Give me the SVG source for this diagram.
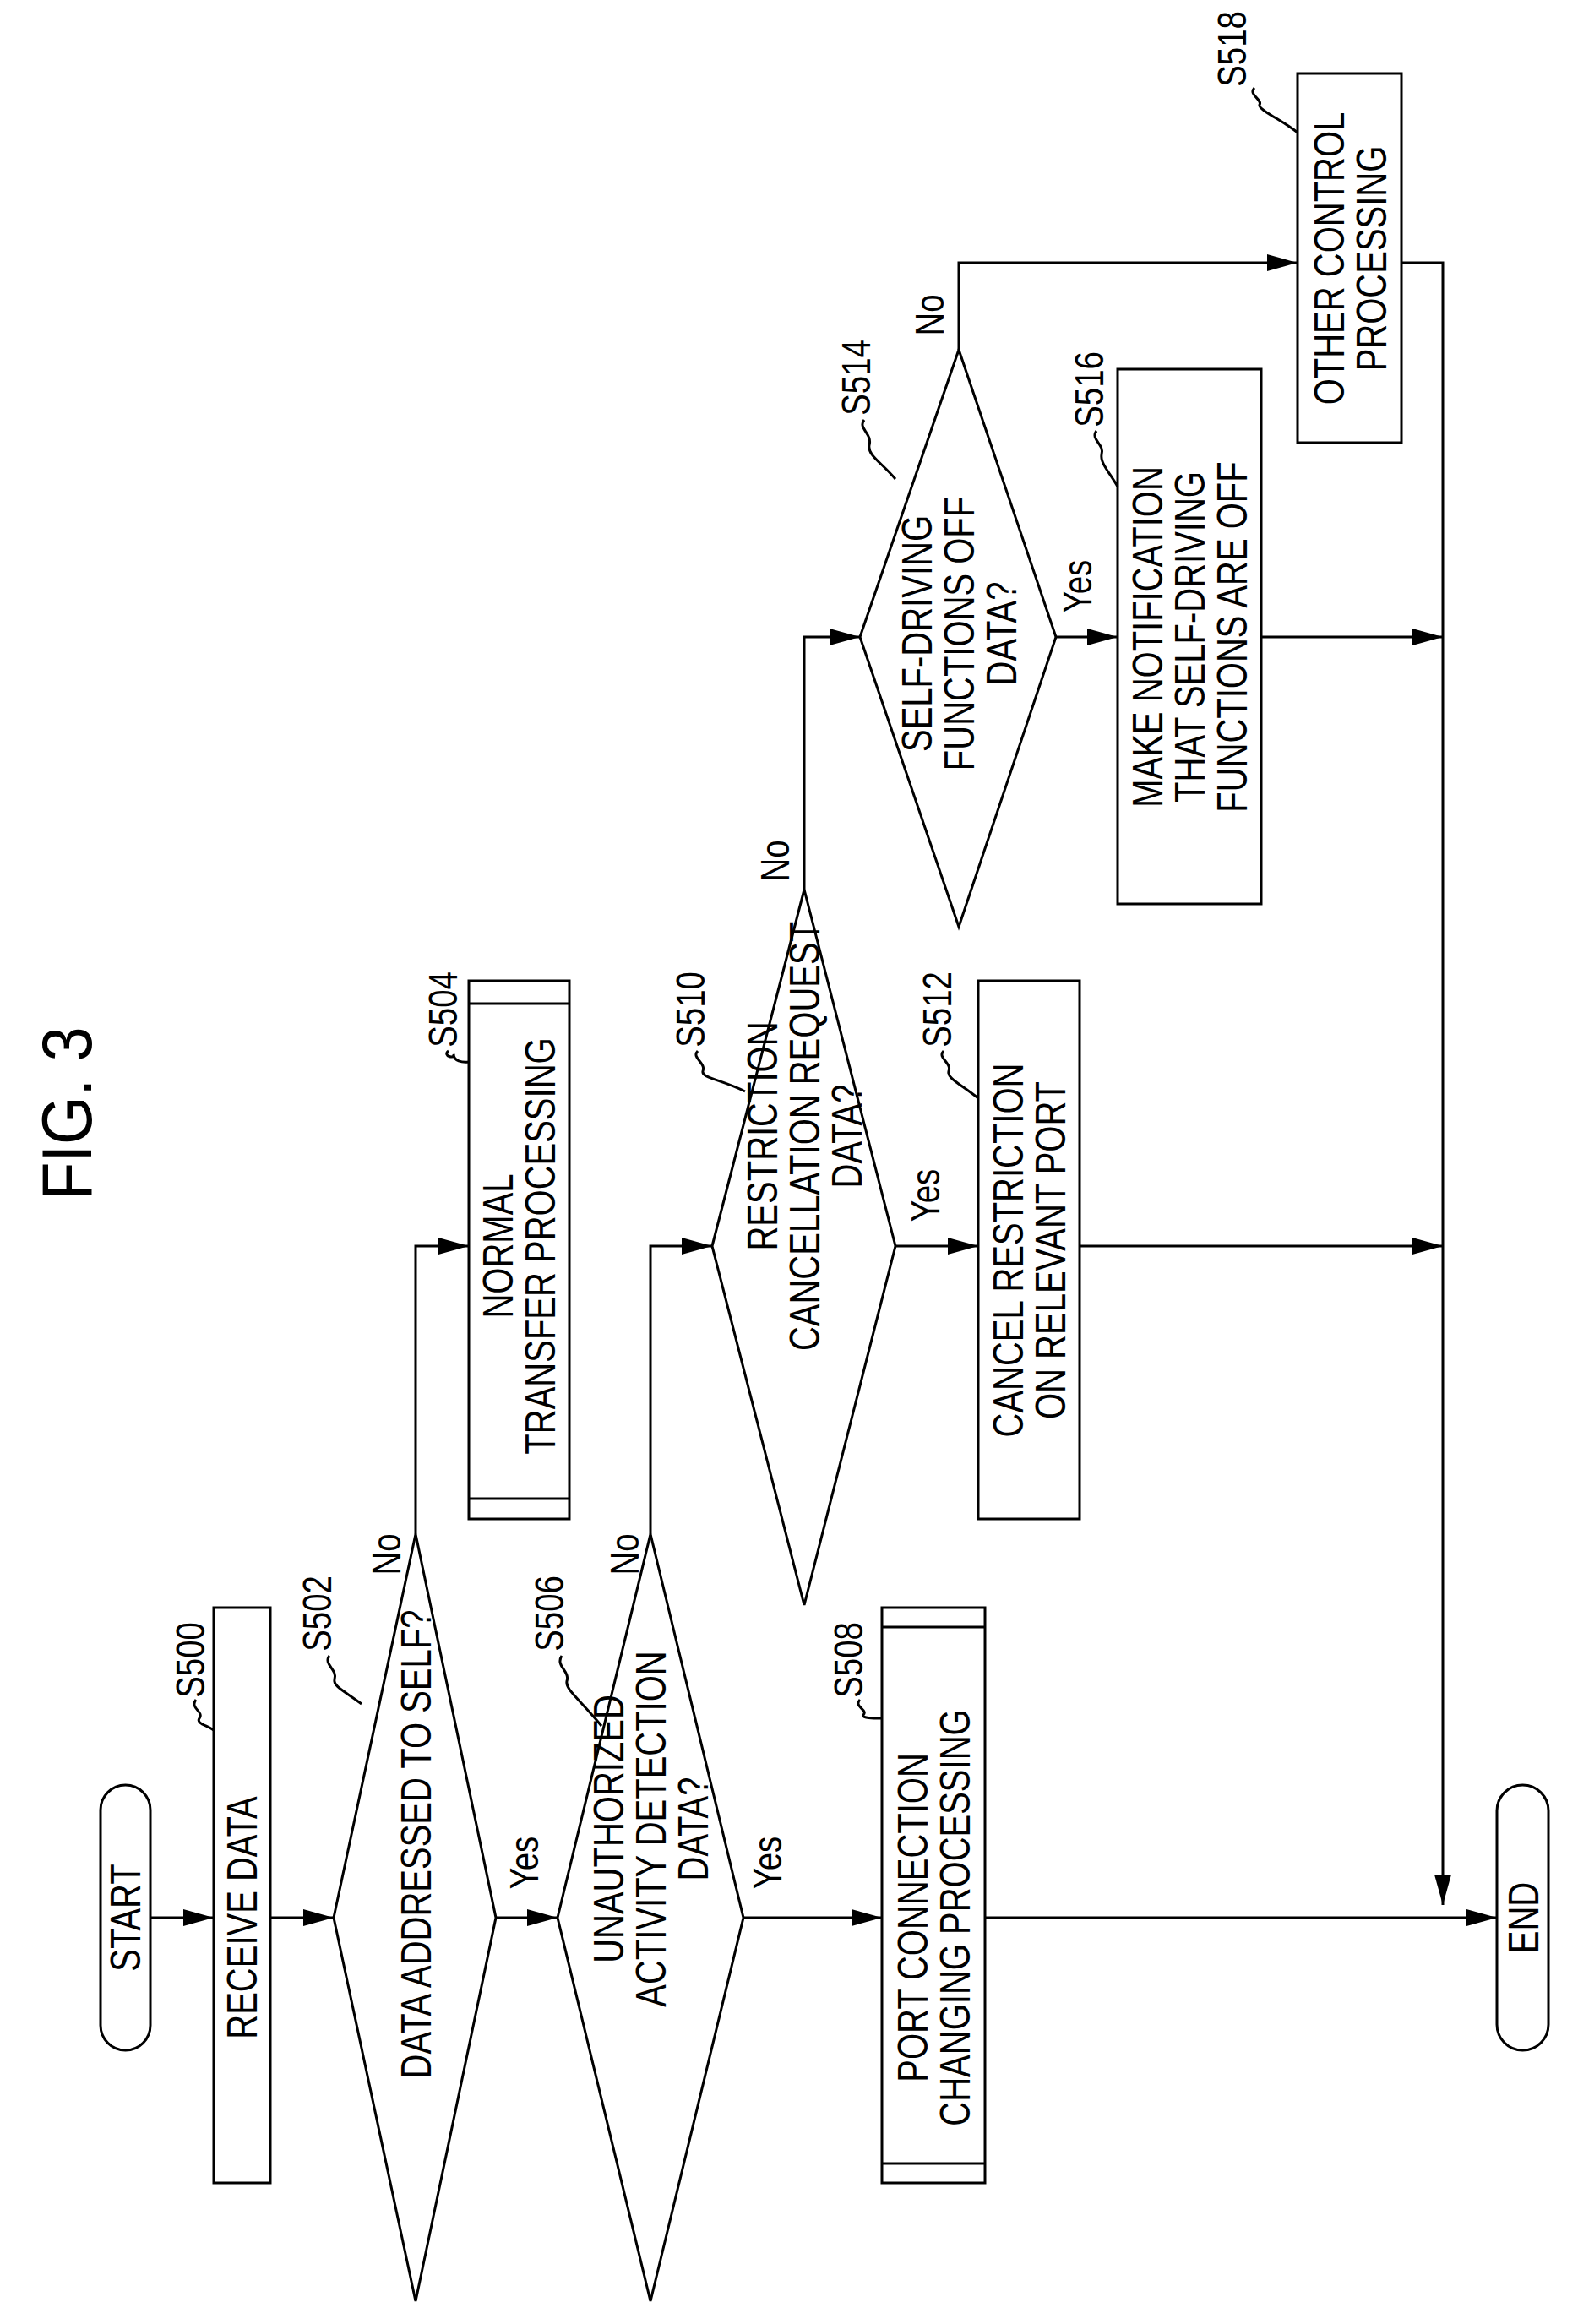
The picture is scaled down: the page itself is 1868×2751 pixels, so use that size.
<svg xmlns="http://www.w3.org/2000/svg" width="1868" height="2751" viewBox="0 0 1868 2751">
<style>
.s{fill:#fff;stroke:#000;stroke-width:3}
.l{fill:none;stroke:#000;stroke-width:3}
.a{fill:none;stroke:#000;stroke-width:3;marker-end:url(#ah2)}
text{font-family:"Liberation Sans",Arial,sans-serif;font-size:50px;text-anchor:middle;fill:#000}
.sm{font-size:48px}
.fig{font-size:84px}
</style>
<defs>
<marker id="ah2" viewBox="0 0 36 20" markerWidth="36" markerHeight="20" refX="36" refY="10" orient="auto" markerUnits="userSpaceOnUse"><path d="M0,0 L36,10 L0,20 z" fill="#000"/></marker></defs>
<text class="fig" transform="translate(108,1318) rotate(-90) scale(0.88,1)">FIG. 3</text>
<g id="connectors">
<path class="a" d="M178,2270 H253"/>
<path class="a" d="M320,2270 H395"/>
<path class="a" d="M587,2270 H660"/>
<path class="a" d="M880,2270 H1044"/>
<path class="a" d="M1166,2270 H1772"/>
<path class="a" d="M492,1816 V1475 H555"/>
<path class="a" d="M770,1816 V1475 H843"/>
<path class="a" d="M1060,1475 H1158"/>
<path class="a" d="M1278,1475 H1708"/>
<path class="a" d="M952,1053 V754 H1018"/>
<path class="a" d="M1250,754 H1323"/>
<path class="a" d="M1493,754 H1708"/>
<path class="a" d="M1135,414 V311 H1536"/>
<path class="a" d="M1659,311 H1708 V2255"/>
<text class="sm" transform="translate(474,1840) rotate(-90) scale(0.8,1)">No</text>
<text class="sm" transform="translate(637,2205) rotate(-90) scale(0.8,1)">Yes</text>
<text class="sm" transform="translate(756,1840) rotate(-90) scale(0.8,1)">No</text>
<text class="sm" transform="translate(925,2205) rotate(-90) scale(0.8,1)">Yes</text>
<text class="sm" transform="translate(1112,1415) rotate(-90) scale(0.8,1)">Yes</text>
<text class="sm" transform="translate(934,1019) rotate(-90) scale(0.8,1)">No</text>
<text class="sm" transform="translate(1292,694) rotate(-90) scale(0.8,1)">Yes</text>
<text class="sm" transform="translate(1117,373) rotate(-90) scale(0.8,1)">No</text>
</g>
<g id="start"><rect class="s" x="119" y="2113" width="59" height="314" rx="29.5"/><text transform="translate(166,2270) rotate(-90) scale(0.8,1)">START</text></g>
<g id="s500"><rect class="s" x="253" y="1903" width="67" height="681"/><text transform="translate(304,2270) rotate(-90) scale(0.8,1)">RECEIVE DATA</text>
<text class="sm" transform="translate(242,1965) rotate(-90) scale(0.8,1)">S500</text><path class="l" d="M232,2012 c-8,10 10,14 4,22 c-4,6 8,8 17,14"/></g>
<g id="s502"><path class="s" d="M395,2270 L492,1816 L587,2270 L492,2724 z"/><text transform="translate(510,2183) rotate(-90) scale(0.8,1)">DATA ADDRESSED TO SELF?</text>
<text class="sm" transform="translate(392,1910) rotate(-90) scale(0.8,1)">S502</text><path class="l" d="M390,1960 c-8,10 10,16 6,28 c-2,8 12,14 32,29"/></g>
<g id="s504"><rect class="s" x="555" y="1161" width="119" height="637"/><path class="l" d="M555,1188 H674 M555,1774 H674"/><text transform="translate(607,1475) rotate(-90) scale(0.8,1)"><tspan x="0">NORMAL</tspan><tspan x="0" dy="50">TRANSFER PROCESSING</tspan></text>
<text class="sm" transform="translate(541,1195) rotate(-90) scale(0.8,1)">S504</text><path class="l" d="M531,1244 c-8,6 8,10 6,4 c0,8 10,10 18,9"/></g>
<g id="s506"><path class="s" d="M660,2270 L770,1816 L880,2270 L770,2724 z"/><text transform="translate(738,2165) rotate(-90) scale(0.8,1)"><tspan x="0">UNAUTHORIZED</tspan><tspan x="0" dy="50">ACTIVITY DETECTION</tspan><tspan x="0" dy="50">DATA?</tspan></text>
<text class="sm" transform="translate(667,1910) rotate(-90) scale(0.8,1)">S506</text><path class="l" d="M665,1960 c-8,12 10,18 6,30 c-2,10 14,20 41,53"/></g>
<g id="s508"><rect class="s" x="1044" y="1903" width="122" height="681"/><path class="l" d="M1044,1926 H1166 M1044,2561 H1166"/><text transform="translate(1098,2270) rotate(-90) scale(0.8,1)"><tspan x="0">PORT CONNECTION</tspan><tspan x="0" dy="50">CHANGING PROCESSING</tspan></text>
<text class="sm" transform="translate(1021,1965) rotate(-90) scale(0.8,1)">S508</text><path class="l" d="M1018,2012 c-8,8 10,12 4,18 c-2,4 12,4 22,4"/></g>
<g id="s510"><path class="s" d="M843,1475 L952,1053 L1060,1475 L952,1900 z"/><text transform="translate(920,1345) rotate(-90) scale(0.8,1)"><tspan x="0">RESTRICTION</tspan><tspan x="0" dy="50">CANCELLATION REQUEST</tspan><tspan x="0" dy="50">DATA?</tspan></text>
<text class="sm" transform="translate(834,1195) rotate(-90) scale(0.8,1)">S510</text><path class="l" d="M826,1244 c-8,8 10,14 6,24 c-2,8 22,10 50,24"/></g>
<g id="s512"><rect class="s" x="1158" y="1161" width="120" height="637"/><text transform="translate(1211,1480) rotate(-90) scale(0.8,1)"><tspan x="0">CANCEL RESTRICTION</tspan><tspan x="0" dy="50">ON RELEVANT PORT</tspan></text>
<text class="sm" transform="translate(1126,1195) rotate(-90) scale(0.8,1)">S512</text><path class="l" d="M1117,1244 c-8,8 10,14 6,24 c-2,8 12,14 35,32"/></g>
<g id="s514"><path class="s" d="M1018,754 L1135,414 L1250,754 L1135,1097 z"/><text transform="translate(1103,750) rotate(-90) scale(0.8,1)"><tspan x="0">SELF-DRIVING</tspan><tspan x="0" dy="50">FUNCTIONS OFF</tspan><tspan x="0" dy="50">DATA?</tspan></text>
<text class="sm" transform="translate(1030,447) rotate(-90) scale(0.8,1)">S514</text><path class="l" d="M1023,497 c-8,10 10,16 6,30 c-2,12 14,20 31,40"/></g>
<g id="s516"><rect class="s" x="1323" y="437" width="170" height="633"/><text transform="translate(1376,754) rotate(-90) scale(0.8,1)"><tspan x="0">MAKE NOTIFICATION</tspan><tspan x="0" dy="50">THAT SELF-DRIVING</tspan><tspan x="0" dy="50">FUNCTIONS ARE OFF</tspan></text>
<text class="sm" transform="translate(1306,461) rotate(-90) scale(0.8,1)">S516</text><path class="l" d="M1298,510 c-8,10 10,16 6,28 c-2,10 10,22 19,38"/></g>
<g id="s518"><rect class="s" x="1536" y="87" width="123" height="437"/><text transform="translate(1591,306) rotate(-90) scale(0.8,1)"><tspan x="0">OTHER CONTROL</tspan><tspan x="0" dy="50">PROCESSING</tspan></text>
<text class="sm" transform="translate(1475,58) rotate(-90) scale(0.8,1)">S518</text><path class="l" d="M1485,104 c-8,8 10,14 6,20 c-2,6 30,20 45,33"/></g>
<g id="end"><rect class="s" x="1772" y="2113" width="61" height="314" rx="30.5"/><text transform="translate(1821,2270) rotate(-90) scale(0.8,1)">END</text></g>
</svg>
